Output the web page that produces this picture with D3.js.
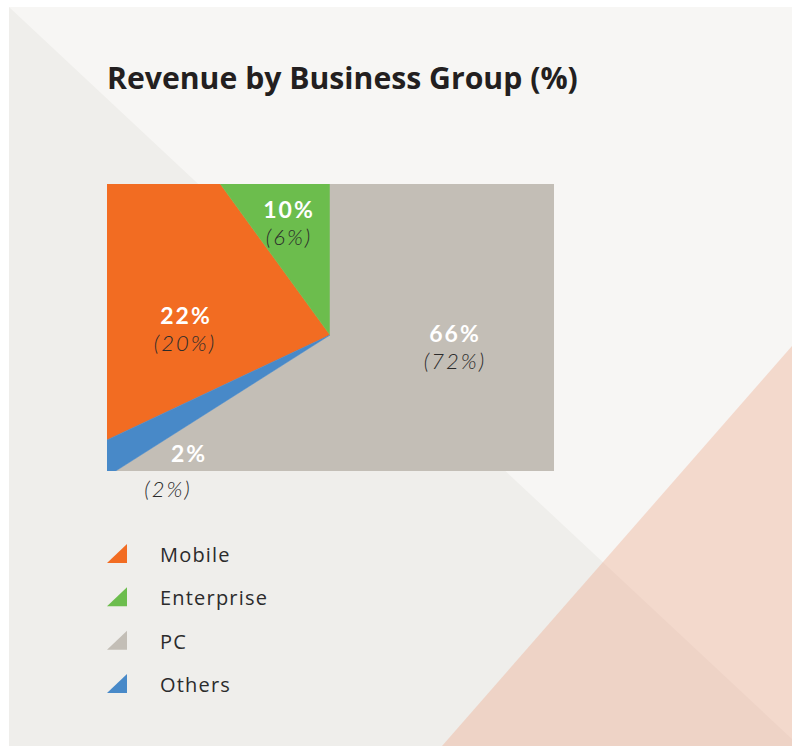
<!DOCTYPE html>
<html>
<head>
<meta charset="utf-8">
<script src="https://cdn.jsdelivr.net/npm/d3@7"></script>
<style>
  html, body { margin: 0; padding: 0; background: #ffffff; }
  svg { display: block; }
</style>
</head>
<body>
<svg id="chart" width="792" height="746"></svg>
<script>
// ---- data ----
const categories = ["Mobile", "Enterprise", "PC", "Others"];
const currentShare = [22, 10, 66, 2];     // bold labels (%)
const previousShare = [20, 6, 72, 2];     // italic labels in brackets (%)
const legendLabels = ["Mobile", "Enterprise", "PC", "Others"];

// ---- styles / layout ----
const colors = ["#f26c22", "#6cbd4d", "#c3beb6", "#4889c8"];
const W = 792, H = 746;
const plot = { x: 107, y: 184, w: 447, h: 287 };
const center = { x: 330, y: 335 };
// label anchors (layout only)
const labelPos = [
  { x: 186, y: 324, px: 185, py: 351 },
  { x: 289, y: 218, px: 289, py: 245 },
  { x: 455, y: 342, px: 455, py: 369 },
  { x: 189, y: 462, px: 168, py: 497 }
];
const FONT = "'Open Sans', 'Lato', sans-serif";
const LFONT = "'Lato', 'Open Sans', sans-serif";

const svg = d3.select("#chart");

// background panels
svg.append("rect").attr("x", 9).attr("y", 7).attr("width", W - 9).attr("height", H - 7).attr("fill", "#f7f6f4");
svg.append("polygon").attr("points", [[9, 7], [792, 739], [792, 746], [9, 746]].map(p => p.join(",")).join(" ")).attr("fill", "#efeeeb");
svg.append("polygon").attr("points", [[442, 746], [792, 346], [792, 746]].map(p => p.join(",")).join(" "))
  .attr("fill", "rgb(238,159,124)").attr("fill-opacity", 0.33);

// title
const title = svg.append("text")
  .attr("x", 107).attr("y", 89)
  .attr("font-family", FONT)
  .attr("font-weight", 700)
  .attr("font-size", 26)
  .attr("fill", "#231f20")
  .text("Revenue by Business Group (%)");
const tl = title.node().getComputedTextLength();
title.attr("font-size", 26 * 471 / tl);

// pie clipped to rectangle
const data = categories.map((c, i) => ({ name: c, value: currentShare[i], prev: previousShare[i], color: colors[i] }));
const total = d3.sum(currentShare);
const idxPC = categories.indexOf("PC");
const before = d3.sum(currentShare.slice(0, idxPC));
const start = -2 * Math.PI * before / total;
const pie = d3.pie().sort(null).value(d => d.value).startAngle(start).endAngle(start + 2 * Math.PI);
const arc = d3.arc().innerRadius(0).outerRadius(800);

svg.append("clipPath").attr("id", "plotClip")
  .append("rect").attr("x", plot.x).attr("y", plot.y).attr("width", plot.w).attr("height", plot.h);

const g = svg.append("g").attr("clip-path", "url(#plotClip)")
  .append("g").attr("transform", `translate(${center.x},${center.y})`);
g.selectAll("path").data(pie(data)).join("path")
  .attr("d", arc)
  .attr("fill", d => d.data.color)
  .attr("stroke", d => d.data.color)
  .attr("stroke-width", 0.5);

// labels (current bold, previous italic in brackets)
const lab = svg.append("g");
data.forEach((d, i) => {
  lab.append("text")
    .attr("x", labelPos[i].x).attr("y", labelPos[i].y)
    .attr("text-anchor", "middle")
    .attr("font-family", LFONT)
    .attr("font-weight", 700)
    .attr("font-size", 23)
    .attr("letter-spacing", "2px")
    .attr("fill", "#ffffff")
    .text(d.value + "%");
  lab.append("text")
    .attr("x", labelPos[i].px).attr("y", labelPos[i].py)
    .attr("text-anchor", "middle")
    .attr("font-family", LFONT)
    .attr("font-weight", 300)
    .attr("font-style", "italic")
    .attr("font-size", 22)
    .attr("letter-spacing", "2px")
    .attr("fill", "#2b2b2b")
    .text("(" + d.prev + "%)");
});

// legend
const legend = svg.append("g");
const rowY = d3.scalePoint().domain(legendLabels).range([562, 692]);
legendLabels.forEach((name, i) => {
  const y = rowY(name);
  legend.append("polygon")
    .attr("points", [[107, y + 1], [127, y + 1], [127, y - 18]].map(p => p.join(",")).join(" "))
    .attr("fill", colors[i]);
  legend.append("text")
    .attr("x", 160).attr("y", y)
    .attr("font-family", FONT)
    .attr("font-size", 20)
    .attr("letter-spacing", "1.2px")
    .attr("fill", "#2b2b2b")
    .text(name);
});
</script>
</body>
</html>
